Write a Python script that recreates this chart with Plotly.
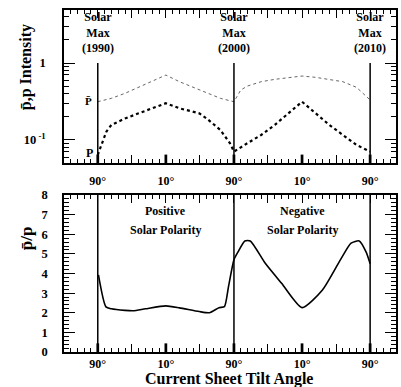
import math
import plotly.graph_objects as go

# ---- data (x = time in years; tilt angle labels on axis) ----
pbar_x = [1990, 1991, 1992, 1993, 1994, 1995, 1996, 1997.45, 1998, 1999, 2000,
          2000.5, 2001, 2002, 2003, 2004, 2005, 2006, 2007, 2008, 2009, 2009.5, 2010]
pbar_y = [0.314, 0.348, 0.404, 0.483, 0.572, 0.698, 0.572, 0.446, 0.404, 0.348, 0.314,
          0.446, 0.503, 0.572, 0.614, 0.652, 0.678, 0.652, 0.614, 0.572, 0.483, 0.404, 0.331]

p_x = [1990, 1990.3, 1990.63, 1991, 1992, 1993, 1994, 1995, 1996, 1997.45, 1998,
       1999, 1999.7, 2000, 2001, 2002, 2003, 2004, 2005, 2006, 2007, 2008, 2009, 2010]
p_y = [0.064, 0.091, 0.128, 0.157, 0.19, 0.222, 0.258, 0.30, 0.258, 0.222, 0.19,
       0.135, 0.091, 0.0705, 0.091, 0.116, 0.157, 0.222, 0.314, 0.222, 0.157, 0.116, 0.086, 0.0705]

ratio_x = [1990.05, 1990.6, 1991, 1992, 1992.6, 1993.5, 1995, 1996, 1997.45, 1998.2,
           1998.9, 1999.3, 1999.6, 2000, 2000.3, 2000.8, 2001.2, 2002.3, 2003.5, 2005,
           2006.5, 2007.9, 2008.6, 2009.2, 2009.7, 2010]
ratio_y = [3.93, 2.3, 2.2, 2.12, 2.1, 2.2, 2.35, 2.25, 2.06, 2.0,
           2.26, 2.31, 3.33, 4.7, 5.1, 5.66, 5.66, 4.52, 3.5, 2.26,
           3.16, 4.8, 5.55, 5.66, 5.1, 4.5]

tick_years = [1987.5, 1990, 1992.5, 1995, 1997.5, 2000, 2002.5, 2005, 2007.5, 2010]
tick_text = ["", "90°", "", "10°", "", "90°", "", "10°", "", "90°"]
solar_max_years = [1990, 2000, 2010]
solar_max_labels = ["Solar<br>Max<br>(1990)", "Solar<br>Max<br>(2000)", "Solar<br>Max<br>(2010)"]
thick_tick_years = [1990, 1995, 2000, 2005, 2010]

FONT = "Liberation Serif"
W, H = 401, 387
ML, MR, MT, MB = 64, 3, 10, 35
PW, PH = W - ML - MR, H - MT - MB


def px_to_paper(px, py):
    return (px - ML) / PW, (H - MB - py) / PH


fig = go.Figure()

fig.add_trace(go.Scatter(x=pbar_x, y=pbar_y, mode="lines", xaxis="x", yaxis="y",
                         line=dict(color="#666666", width=1, dash="dot"), showlegend=False))
fig.add_trace(go.Scatter(x=p_x, y=p_y, mode="lines", xaxis="x", yaxis="y",
                         line=dict(color="black", width=2.2, dash="dot"), showlegend=False))
fig.add_trace(go.Scatter(x=ratio_x, y=ratio_y, mode="lines", xaxis="x2", yaxis="y2",
                         line=dict(color="black", width=1.6, shape="spline", smoothing=0.6),
                         showlegend=False))

tickfont = dict(family=FONT, size=12, color="black", weight="bold")
xcommon = dict(range=[1987.52, 2011.9], tickmode="array", tickvals=tick_years, ticktext=tick_text,
               ticks="inside", ticklen=8, tickwidth=1, tickcolor="black", mirror="allticks",
               showline=True, linecolor="black", linewidth=1.5, showgrid=False, zeroline=False,
               tickfont=tickfont,
               minor=dict(dtick=0.5, tick0=1990, ticks="inside", ticklen=4, tickcolor="black",
                          showgrid=False))

top_minor = [0.05, 0.06, 0.07, 0.08, 0.09, 0.2, 0.3, 0.4, 0.5, 0.6, 0.7, 0.8, 0.9, 2, 3, 4]

fig.update_layout(
    width=W, height=H, margin=dict(l=ML, r=MR, t=MT, b=MB),
    plot_bgcolor="white", paper_bgcolor="white",
    xaxis=dict(domain=[0, 1], anchor="y", ticklabelstandoff=6, **xcommon),
    xaxis2=dict(domain=[0, 1], anchor="y2", ticklabelstandoff=0, **xcommon),
    yaxis=dict(domain=[0.5526, 1], type="log", range=[-1.3, 0.69], anchor="x",
               tickmode="array", tickvals=[0.1, 1], ticktext=["10<sup> -1</sup>", "1"],
               ticks="inside", ticklen=11, tickcolor="black", mirror="allticks",
               showline=True, linecolor="black", linewidth=1.5, showgrid=False,
               tickfont=dict(family=FONT, size=12.5, color="black", weight="bold"),
               ticklabelstandoff=14,
               minor=dict(tickvals=top_minor, ticks="inside", ticklen=5, tickcolor="black",
                          showgrid=False)),
    yaxis2=dict(domain=[0, 0.459], range=[0, 8], anchor="x2",
                tickmode="array", tickvals=[0, 1, 2, 3, 4, 5, 6, 7, 8],
                ticks="inside", ticklen=11, tickcolor="black", mirror="allticks",
                showline=True, linecolor="black", linewidth=1.5, showgrid=False, zeroline=False,
                tickfont=dict(family=FONT, size=12.5, color="black", weight="bold"),
                ticklabelstandoff=12,
                minor=dict(dtick=0.2, ticks="inside", ticklen=5, tickcolor="black",
                           showgrid=False)),
)

shapes = []
for yr in solar_max_years:
    shapes.append(dict(type="line", xref="x", yref="y", x0=yr, x1=yr, y0=0.05, y1=1,
                       line=dict(color="black", width=1.5)))
    shapes.append(dict(type="line", xref="x2", yref="y2 domain", x0=yr, x1=yr, y0=0, y1=1,
                       line=dict(color="black", width=1.5)))
for yr in thick_tick_years:
    for xr, yr_ref in (("x", "y domain"), ("x2", "y2 domain")):
        shapes.append(dict(type="rect", xref=xr, yref=yr_ref, x0=yr - 0.1, x1=yr + 0.1,
                           y0=0, y1=0.055, fillcolor="black", line=dict(width=0)))
fig.update_layout(shapes=shapes)

bold = lambda s: dict(family=FONT, size=s, color="black", weight="bold")
ann = []
for yr, lab in zip(solar_max_years, solar_max_labels):
    ann.append(dict(x=yr, y=1.0, xref="x", yref="y domain", text=lab, showarrow=False,
                    xanchor="center", yanchor="top", yshift=2, font=bold(12)))
ann += [
    dict(x=1995, y=7.2, xref="x2", yref="y2", text="Positive", showarrow=False, font=bold(12)),
    dict(x=1995, y=6.2, xref="x2", yref="y2", text="Solar Polarity", showarrow=False, font=bold(12)),
    dict(x=2005, y=7.2, xref="x2", yref="y2", text="Negative", showarrow=False, font=bold(12)),
    dict(x=2005, y=6.2, xref="x2", yref="y2", text="Solar Polarity", showarrow=False, font=bold(12)),
    dict(x=1989.3, y=math.log10(0.325), xref="x", yref="y", text="P̄", showarrow=False,
         font=bold(11)),
    dict(x=1989.4, y=math.log10(0.068), xref="x", yref="y", text="P", showarrow=False,
         font=bold(12)),
]
x0, y0 = px_to_paper(26, 67)
ann.append(dict(x=x0, y=y0, xref="paper", yref="paper", text="p̄,p Intensity", textangle=-90,
                xanchor="center", yanchor="middle", showarrow=False, font=bold(16)))
x0, y0 = px_to_paper(26, 238)
ann.append(dict(x=x0, y=y0, xref="paper", yref="paper", text="p̄/p", textangle=-90,
                xanchor="center", yanchor="middle", showarrow=False, font=bold(17)))
x0, y0 = px_to_paper(230, 379)
ann.append(dict(x=x0, y=y0, xref="paper", yref="paper", text="Current Sheet Tilt Angle",
                xanchor="center", yanchor="middle", showarrow=False, font=bold(16)))
fig.update_layout(annotations=ann)

fig.write_html("out.html")
